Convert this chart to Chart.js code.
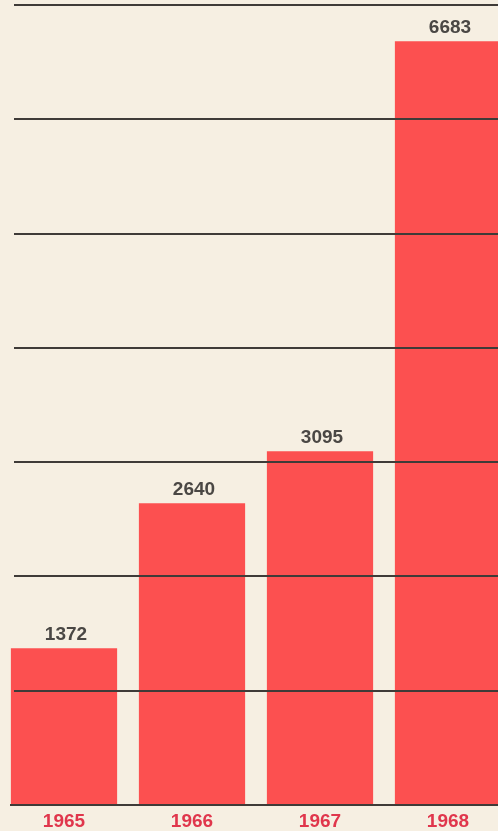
<!DOCTYPE html>
<html>
<head>
<meta charset="utf-8">
<script src="https://cdn.jsdelivr.net/npm/chart.js@4"></script>
<style>
  html, body { margin: 0; padding: 0; background: #f6efe2; overflow: hidden; }
  #wrap { position: relative; width: 512px; height: 831px; }
</style>
</head>
<body>
<div id="wrap"><canvas id="mycanvas"></canvas></div>
<script>
var years = ["1965", "1966", "1967", "1968"];
var values = [1372, 2640, 3095, 6683];
var yMax = 7000;
var yStep = 1000;

// gridlines over the bars, starting a bit in from the left edge
var overGrid = {
  id: 'overGrid',
  afterDatasetsDraw: function(chart) {
    var ctx = chart.ctx;
    var y = chart.scales.y;
    var area = chart.chartArea;
    ctx.save();
    ctx.strokeStyle = "#3f3b38";
    ctx.lineWidth = 2;
    y.ticks.forEach(function(t) {
      var py = Math.round(y.getPixelForValue(t.value));
      ctx.beginPath();
      ctx.moveTo(t.value === 0 ? 10 : 14, py);
      ctx.lineTo(area.right, py);
      ctx.stroke();
    });
    ctx.restore();
  }
};

// value labels on top of each bar
var valueLabels = {
  id: 'valueLabels',
  afterDraw: function(chart) {
    var ctx = chart.ctx;
    var meta = chart.getDatasetMeta(0);
    ctx.save();
    ctx.fillStyle = "#4a4744";
    ctx.font = "bold 19px 'Liberation Sans', Arial, sans-serif";
    ctx.textAlign = "center";
    ctx.textBaseline = "bottom";
    meta.data.forEach(function(bar, i) {
      ctx.fillText(values[i], bar.x + 2, bar.y - 4);
    });
    ctx.restore();
  }
};

var ctx = document.getElementById("mycanvas");
var chart = new Chart(ctx, {
  type: 'bar',
  data: {
    labels: years,
    datasets: [{
      data: values,
      backgroundColor: "#fc5050",
      borderWidth: 0,
      categoryPercentage: 1,
      barPercentage: 0.83
    }]
  },
  options: {
    responsive: true,
    maintainAspectRatio: false,
    animation: false,
    layout: { padding: { top: 5, left: 0, right: 0, bottom: 0 } },
    plugins: { legend: { display: false }, tooltip: { enabled: false } },
    scales: {
      x: {
        grid: { display: false, drawTicks: false },
        border: { display: false },
        afterFit: function(s) { s.height = 26; },
        ticks: {
          color: "#e0364c",
          padding: 5,
          font: { family: "'Liberation Sans', Arial, sans-serif", size: 19, weight: 'bold' }
        }
      },
      y: {
        min: 0,
        max: yMax,
        display: true,
        grid: { display: false, drawTicks: false },
        border: { display: false },
        afterFit: function(s) { s.width = 0; },
        ticks: { display: false, stepSize: yStep, padding: 0 }
      }
    }
  },
  plugins: [overGrid, valueLabels]
});
</script>
</body>
</html>
